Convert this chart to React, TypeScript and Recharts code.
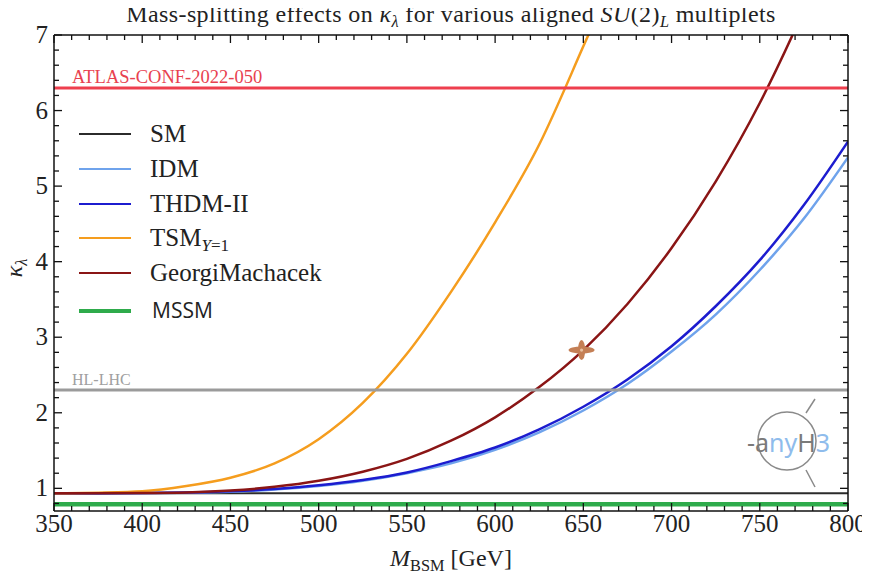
import React from 'react';
import { ComposedChart, Line, XAxis, YAxis, ReferenceLine, Scatter } from 'recharts';

// ---------------- data ----------------
const massGeV = [350, 375, 400, 425, 450, 475, 500, 525, 550, 575, 600, 625, 650, 675, 700, 725, 750, 775, 800];
const kappaIDM = [0.935, 0.935, 0.937, 0.942, 0.955, 0.985, 1.03, 1.1, 1.2, 1.33, 1.51, 1.74, 2.03, 2.38, 2.81, 3.3, 3.89, 4.57, 5.38];
const kappaTHDM = [0.935, 0.935, 0.937, 0.944, 0.96, 0.99, 1.04, 1.11, 1.21, 1.36, 1.54, 1.78, 2.08, 2.44, 2.88, 3.41, 4.02, 4.75, 5.59];
const kappaTSM = [0.935, 0.942, 0.96, 1.03, 1.14, 1.33, 1.65, 2.13, 2.78, 3.6, 4.52, 5.55, 6.85, 8.2, 9.9, null, null, null, null];
const kappaGM = [0.935, 0.935, 0.937, 0.945, 0.97, 1.02, 1.1, 1.22, 1.39, 1.63, 1.94, 2.34, 2.83, 3.44, 4.18, 5.06, 6.1, 7.33, 8.7];

const smMass = [350, 800];
const smKappa = [0.935, 0.935];
const mssmMass = [350, 800];
const mssmKappa = [0.79, 0.79];

const atlasBound = 6.3;
const hlLhcBound = 2.3;
const markerMass = [649];
const markerKappa = [2.83];

const xLabels = [350, 400, 450, 500, 550, 600, 650, 700, 750, 800];
const yLabels = [1, 2, 3, 4, 5, 6, 7];

// ---------------- helpers ----------------
const toPoints = (ms: number[], ks: (number | null)[]) => ms.map((m, i) => ({ m, k: ks[i] }));

const xTicks: number[] = [];
for (let v = 350; v <= 800; v += 10) xTicks.push(v);
const yTicks: number[] = [];
for (let i = 4; i <= 35; i++) yTicks.push(i / 5);

const serif = "'Liberation Serif', 'Times New Roman', 'DejaVu Serif', serif";
const W = 860;
const H = 567;

const isMajorX = (v: number) => xLabels.indexOf(v) >= 0;
const isMajorY = (v: number) => yLabels.some((l) => Math.abs(l - v) < 1e-6);

const TICK = '#111';

function BottomTick(props: any) {
  const { x, y, payload } = props;
  const v = payload.value;
  const major = isMajorX(v);
  return (
    <g>
      <line x1={x} x2={x} y1={y} y2={y - (major ? 8 : 5)} stroke={TICK} strokeWidth={1.3} />
      {major && (
        <text x={x} y={y + 21} textAnchor="middle" fontFamily={serif} fontSize={25} fill="#222">
          {v}
        </text>
      )}
    </g>
  );
}
function TopTick(props: any) {
  const { x, y, payload } = props;
  const major = isMajorX(payload.value);
  return <line x1={x} x2={x} y1={y} y2={y + (major ? 8 : 5)} stroke={TICK} strokeWidth={1.3} />;
}
function LeftTick(props: any) {
  const { x, y, payload } = props;
  const v = payload.value;
  const major = isMajorY(v);
  return (
    <g>
      <line x1={x} x2={x + (major ? 8 : 5)} y1={y} y2={y} stroke={TICK} strokeWidth={1.3} />
      {major && (
        <text x={x - 6} y={y + 8} textAnchor="end" fontFamily={serif} fontSize={25} fill="#222">
          {Math.round(v)}
        </text>
      )}
    </g>
  );
}
function RightTick(props: any) {
  const { x, y, payload } = props;
  const major = isMajorY(payload.value);
  return <line x1={x} x2={x - (major ? 8 : 5)} y1={y} y2={y} stroke={TICK} strokeWidth={1.3} />;
}

function CrossMarker(props: any) {
  const { cx, cy } = props;
  return (
    <g transform={`translate(${cx},${cy})`}>
      <ellipse cx={0} cy={0} rx={13} ry={3.6} fill="#c47f55" />
      <ellipse cx={0} cy={0} rx={3.6} ry={10} fill="#c47f55" />
      <circle cx={0} cy={0} r={1.6} fill="#e8c0a0" />
    </g>
  );
}

const refLabel = (text: string, color: string, size: number) => (props: any) => {
  const { viewBox } = props;
  return (
    <text x={viewBox.x + 18} y={viewBox.y - 5} fill={color} fontFamily={serif} fontSize={size}>
      {text}
    </text>
  );
};

const sub = (s: React.ReactNode) => (
  <span style={{ fontSize: '0.68em', verticalAlign: '-0.3em', lineHeight: 0 }}>{s}</span>
);

const series = [
  { name: 'SM', label: <>SM</>, color: '#2b2b2b', width: 2, data: toPoints(smMass, smKappa), font: serif },
  { name: 'IDM', label: <>IDM</>, color: '#6fa3ec', width: 2.5, data: toPoints(massGeV, kappaIDM), font: serif },
  { name: 'THDM-II', label: <>THDM-II</>, color: '#1c1ccf', width: 2.5, data: toPoints(massGeV, kappaTHDM), font: serif },
  {
    name: 'TSM',
    label: (
      <>
        TSM{sub(<><i>Y</i>=1</>)}
      </>
    ),
    color: '#f59d1e',
    width: 2.5,
    data: toPoints(massGeV, kappaTSM),
    font: serif,
  },
  { name: 'GeorgiMachacek', label: <>GeorgiMachacek</>, color: '#8a1515', width: 2.5, data: toPoints(massGeV, kappaGM), font: serif },
  { name: 'MSSM', label: <>MSSM</>, color: '#2eab4b', width: 4.5, data: toPoints(mssmMass, mssmKappa), font: "'Open Sans', 'Liberation Sans', sans-serif" },
];

const legendRowsY = [126, 161, 196, 230, 265, 303];

export default function App() {
  return (
    <div style={{ position: 'relative', width: W, height: H, fontFamily: serif, color: '#222' }}>
      <ComposedChart width={W} height={H} margin={{ top: 26, right: 19, bottom: 24, left: 0 }}>
        <XAxis
          xAxisId="x"
          dataKey="m"
          type="number"
          domain={[350, 800]}
          allowDataOverflow
          ticks={xTicks}
          interval={0}
          height={40}
          tickSize={0}
          tickMargin={0}
          tickLine={false}
          axisLine={{ stroke: TICK, strokeWidth: 1.5 }}
          tick={(p: any) => <BottomTick {...p} />}
        />
        <XAxis
          xAxisId="xt"
          orientation="top"
          dataKey="m"
          type="number"
          domain={[350, 800]}
          allowDataOverflow
          ticks={xTicks}
          interval={0}
          height={1}
          tickSize={0}
          tickMargin={0}
          tickLine={false}
          axisLine={{ stroke: TICK, strokeWidth: 1.5 }}
          tick={(p: any) => <TopTick {...p} />}
        />
        <YAxis
          yAxisId="y"
          type="number"
          domain={[0.7, 7]}
          allowDataOverflow
          ticks={yTicks}
          interval={0}
          width={46}
          tickSize={0}
          tickMargin={0}
          tickLine={false}
          axisLine={{ stroke: TICK, strokeWidth: 1.5 }}
          tick={(p: any) => <LeftTick {...p} />}
        />
        <YAxis
          yAxisId="yr"
          orientation="right"
          type="number"
          domain={[0.7, 7]}
          allowDataOverflow
          ticks={yTicks}
          interval={0}
          width={1}
          tickSize={0}
          tickMargin={0}
          tickLine={false}
          axisLine={{ stroke: TICK, strokeWidth: 1.5 }}
          tick={(p: any) => <RightTick {...p} />}
        />

        {series.map((s) => (
          <Line
            key={s.name}
            xAxisId="x"
            yAxisId="y"
            data={s.data}
            dataKey="k"
            name={s.name}
            type="monotone"
            stroke={s.color}
            strokeWidth={s.width}
            dot={false}
            activeDot={false}
            isAnimationActive={false}
          />
        ))}

        <ReferenceLine
          xAxisId="x"
          yAxisId="y"
          y={atlasBound}
          stroke="#ee3f4e"
          strokeWidth={3}
          label={refLabel('ATLAS-CONF-2022-050', '#e8414f', 18.5)}
        />
        <ReferenceLine
          xAxisId="x"
          yAxisId="y"
          y={hlLhcBound}
          stroke="#9b9b9b"
          strokeWidth={3}
          label={refLabel('HL-LHC', '#a0a0a0', 16)}
        />
        <Scatter
          xAxisId="x"
          yAxisId="y"
          data={toPoints(markerMass, markerKappa)}
          dataKey="k"
          legendType="none"
          isAnimationActive={false}
          shape={(p: any) => <CrossMarker {...p} />}
        />
      </ComposedChart>

      {/* title */}
      <div
        style={{
          position: 'absolute',
          left: 46,
          width: 794,
          top: -6,
          textAlign: 'center',
          fontSize: 24,
          lineHeight: '24px',
          letterSpacing: '0.4px',
          whiteSpace: 'nowrap',
        }}
      >
        Mass-splitting effects on <i>κ</i>
        {sub(<i>λ</i>)} for various aligned <i>SU</i>(2){sub(<i>L</i>)} multiplets
      </div>

      {/* x axis title */}
      <div
        style={{
          position: 'absolute',
          left: 46,
          width: 794,
          top: 538,
          textAlign: 'center',
          fontSize: 24,
          lineHeight: '24px',
          whiteSpace: 'nowrap',
        }}
      >
        <i>M</i>
        {sub('BSM')} [GeV]
      </div>

      {/* y axis title */}
      <div
        style={{
          position: 'absolute',
          left: 6,
          top: 260,
          transform: 'translate(-50%, -50%) rotate(-90deg)',
          fontSize: 24,
          lineHeight: '24px',
          whiteSpace: 'nowrap',
        }}
      >
        <i>κ</i>
        {sub(<i>λ</i>)}
      </div>

      {/* legend */}
      {series.map((s, i) => (
        <React.Fragment key={s.name}>
          <div
            style={{
              position: 'absolute',
              left: 71,
              width: 52,
              top: legendRowsY[i] - s.width / 2,
              height: s.width,
              background: s.color,
            }}
          />
          <div
            style={{
              position: 'absolute',
              left: s.name === 'MSSM' ? 144 : 142,
              top: legendRowsY[i] - 13,
              fontSize: s.name === 'MSSM' ? 21 : 25,
              lineHeight: '25px',
              fontFamily: s.font,
              whiteSpace: 'nowrap',
              color: '#222',
            }}
          >
            {s.label}
          </div>
        </React.Fragment>
      ))}

      {/* anyH3 logo */}
      <svg style={{ position: 'absolute', left: 722, top: 382 }} width={110} height={110}>
        <circle cx={57} cy={51} r={29} fill="none" stroke="#8a8a8a" strokeWidth={1.5} />
        <line x1={76} y1={23} x2={85} y2={9} stroke="#8a8a8a" strokeWidth={1.5} />
        <line x1={76} y1={80} x2={85} y2={97} stroke="#8a8a8a" strokeWidth={1.5} />
        <text x={17} y={62} fontFamily="'Noto Sans', 'DejaVu Sans', sans-serif" fontSize={25}>
          <tspan fill="#7a7a7a">-a</tspan>
          <tspan fill="#8fbcec">ny</tspan>
          <tspan fill="#7a7a7a">H</tspan>
          <tspan fill="#8fbcec">3</tspan>
        </text>
      </svg>
    </div>
  );
}
